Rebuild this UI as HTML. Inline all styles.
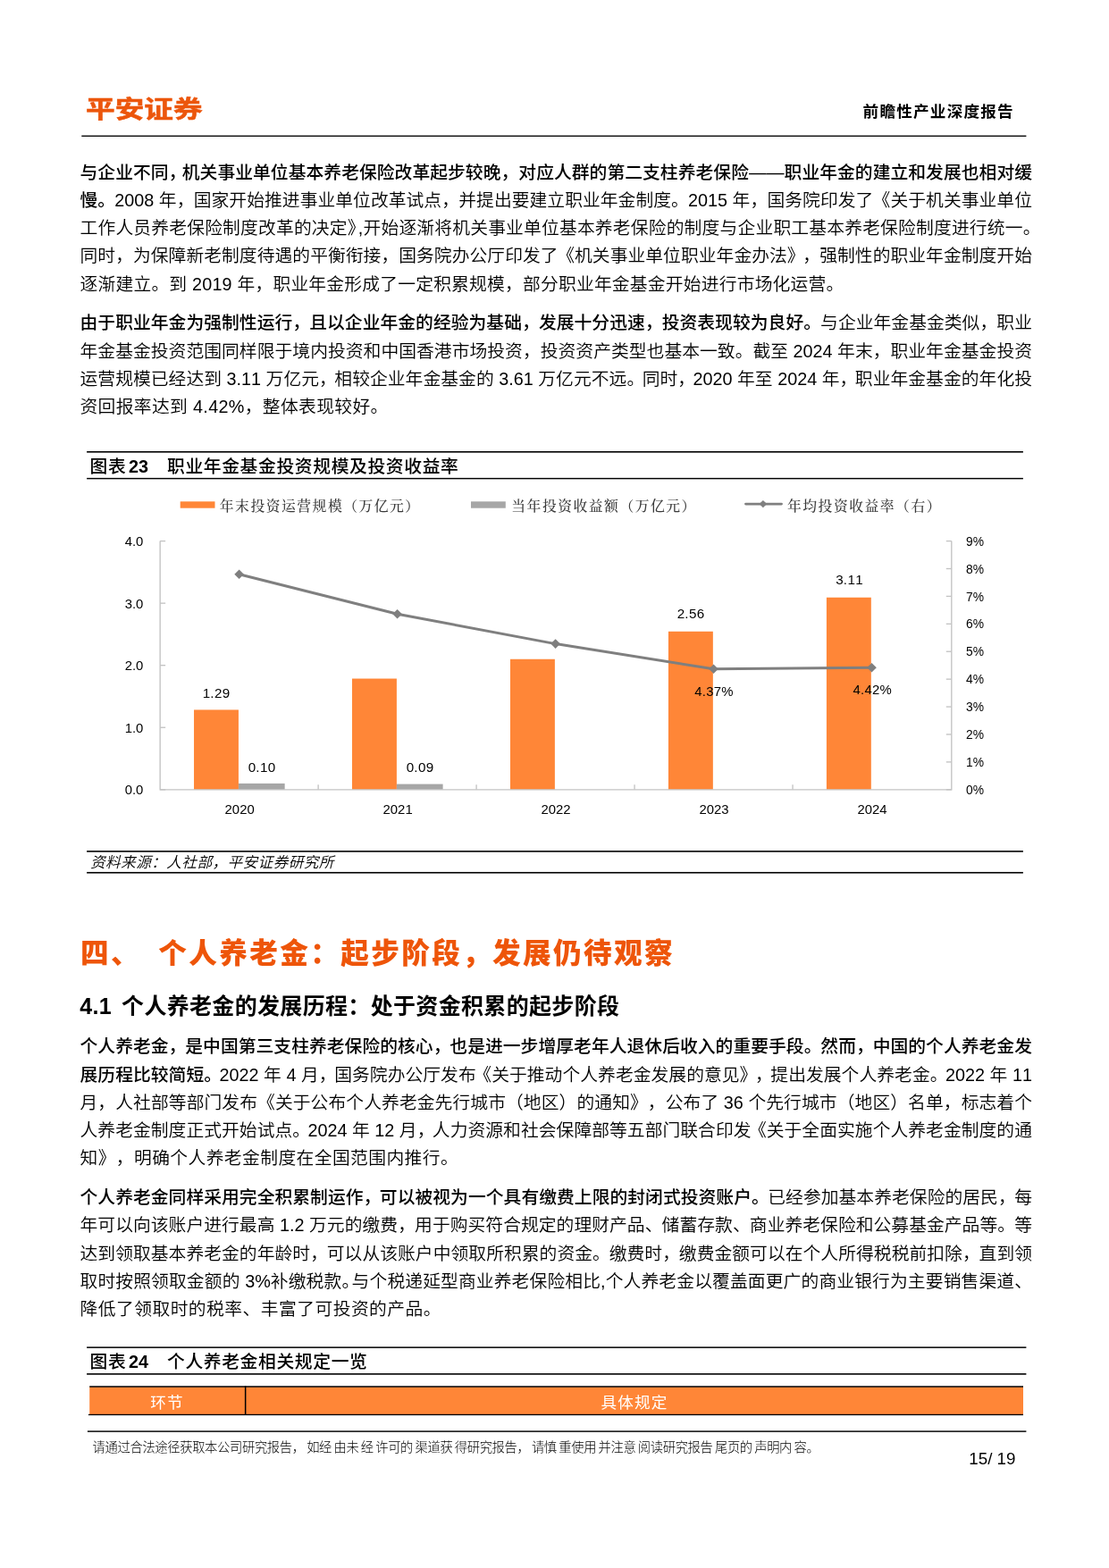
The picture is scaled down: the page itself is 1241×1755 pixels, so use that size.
<!DOCTYPE html>
<html lang="zh-CN">
<head>
<meta charset="utf-8">
<title>前瞻性产业深度报告</title>
<style>
html,body{margin:0;padding:0;background:#fff}
body{width:1241px;height:1755px;position:relative;overflow:hidden;color:#000;
  font-family:"Liberation Sans","Noto Sans CJK SC",sans-serif;-webkit-font-smoothing:antialiased;text-spacing-trim:space-all;font-kerning:none}
.abs{position:absolute;white-space:nowrap}
.ln{position:absolute;white-space:nowrap;font-size:19.79px;height:30px;line-height:30px;color:#000;font-weight:350}
.ln.j{text-align:justify;text-align-last:justify}
.ln b{font-weight:500}
.pr,.pl{display:inline-block}
#logo{left:96.3px;top:102.5px;font-size:27px;line-height:40px;font-weight:700;color:#EC560C;transform-origin:0 0;transform:scale(1.21,1);letter-spacing:0px;-webkit-text-stroke:0.55px #EC560C}
#hdr{left:965.6px;top:111.4px;font-size:17.6px;line-height:28px;font-weight:700;letter-spacing:1.22px}
.ftitle{font-size:19.79px;line-height:30px;font-weight:500;left:100.6px;letter-spacing:0.62px}
.ftitle .n{font-weight:700;letter-spacing:0;margin-left:2.6px}
.src{font-size:16.67px;line-height:24px;font-style:italic;left:101px;letter-spacing:0.4px;font-weight:350}
#h1{left:89.9px;top:1045.3px;font-size:31.6px;line-height:44px;font-weight:900;color:#EE5509;letter-spacing:2.4px}
#h2{left:89.3px;top:1109.94px;font-size:25px;line-height:32px;font-weight:700;letter-spacing:0.33px}
.th{color:#fff;font-size:17.6px;line-height:30px;font-weight:400;text-align:center;top:1555.3px;letter-spacing:1.2px}
#foot{left:103.6px;top:1609.3px;font-size:14.3px;line-height:22px;letter-spacing:-0.35px;color:#000;font-weight:300}
#foot .g{margin-right:2.45px}
#pg{left:1084.3px;top:1620.50px;font-size:18.75px;line-height:24px}
svg text{font-family:"Liberation Sans","Noto Sans CJK SC",sans-serif}
svg .lg{font-family:"Liberation Serif","Noto Serif CJK SC",serif;font-size:15.8px;fill:#3a3a3a;letter-spacing:1.5px;font-weight:500}
</style>
</head>
<body>
<div class="abs" id="logo">平安证券</div>
<div class="abs" id="hdr">前瞻性产业深度报告</div>

<div class="ln j" id="l0" style="top:177.59px;left:89.50px;width:1065.50px;"><b>与企业不同<span class="pr" style="margin-right:-4.70px">，</span>机关事业单位基本养老保险改革起步较晚，对应人群的第二支柱养老保险——职业年金的建立和发展也相对缓</b></div>
<div class="ln j" id="l1" style="top:208.84px;left:89.50px;width:1065.50px;"><b>慢<span class="pr" style="margin-right:-0.80px">。</span></b>2008 年<span class="pr" style="margin-right:-0.80px">，</span>国家开始推进事业单位改革试点<span class="pr" style="margin-right:-0.80px">，</span>并提出要建立职业年金制度<span class="pr" style="margin-right:-0.80px">。</span>2015 年<span class="pr" style="margin-right:-0.80px">，</span>国务院印发了<span class="pr" style="margin-left:-0.80px">《</span>关于机关事业单位</div>
<div class="ln j" id="l2" style="top:240.09px;left:89.50px;width:1065.50px;">工作人员养老保险制度改革的决定<span class="pr" style="margin-right:-7.72px">》</span>,开始逐渐将机关事业单位基本养老保险的制度与企业职工基本养老保险制度进行统一<span class="pr" style="margin-right:-9.50px">。</span></div>
<div class="ln j" id="l3" style="top:271.34px;left:89.50px;width:1065.50px;">同时，为保障新老制度待遇的平衡衔接，国务院办公厅印发了<span class="pr" style="margin-left:-1.41px">《</span>机关事业单位职业年金办法<span class="pr" style="margin-right:-2.35px">》</span><span class="pr" style="margin-right:-0.94px">，</span>强制性的职业年金制度开始</div>
<div class="ln" id="l4" style="top:302.59px;left:89.50px;letter-spacing:0.190px;">逐渐建立。到 2019 年，职业年金形成了一定积累规模，部分职业年金基金开始进行市场化运营。</div>
<div class="ln j" id="l5" style="top:346.34px;left:89.50px;width:1065.50px;"><b>由于职业年金为强制性运行<span class="pr" style="margin-right:-0.94px">，</span>且以企业年金的经验为基础<span class="pr" style="margin-right:-0.94px">，</span>发展十分迅速<span class="pr" style="margin-right:-0.94px">，</span>投资表现较为良好<span class="pr" style="margin-right:-0.94px">。</span></b>与企业年金基金类似<span class="pr" style="margin-right:-0.94px">，</span>职业</div>
<div class="ln j" id="l6" style="top:377.59px;left:89.50px;width:1065.50px;">年金基金投资范围同样限于境内投资和中国香港市场投资<span class="pr" style="margin-right:-0.12px">，</span>投资资产类型也基本一致<span class="pr" style="margin-right:-0.12px">。</span>截至 2024 年末<span class="pr" style="margin-right:-0.12px">，</span>职业年金基金投资</div>
<div class="ln j" id="l7" style="top:408.84px;left:89.50px;width:1065.50px;">运营规模已经达到 3.11 万亿元<span class="pr" style="margin-right:-2.59px">，</span>相较企业年金基金的 3.61 万亿元不远<span class="pr" style="margin-right:-2.59px">。</span>同时<span class="pr" style="margin-right:-2.59px">，</span>2020 年至 2024 年<span class="pr" style="margin-right:-2.59px">，</span>职业年金基金的年化投</div>
<div class="ln" id="l8" style="top:440.09px;left:89.50px;letter-spacing:0.330px;">资回报率达到 4.42%，整体表现较好。</div>
<div class="ln j" id="l9" style="top:1156.49px;left:89.50px;width:1065.50px;"><b>个人养老金<span class="pr" style="margin-right:-1.18px">，</span>是中国第三支柱养老保险的核心<span class="pr" style="margin-right:-1.18px">，</span>也是进一步增厚老年人退休后收入的重要手段<span class="pr" style="margin-right:-1.18px">。</span>然而<span class="pr" style="margin-right:-1.18px">，</span>中国的个人养老金发</b></div>
<div class="ln j" id="l10" style="top:1187.74px;left:89.50px;width:1065.50px;"><b>展历程比较简短<span class="pr" style="margin-right:-2.46px">。</span></b>2022 年 4 月<span class="pr" style="margin-right:-2.46px">，</span>国务院办公厅发布<span class="pr" style="margin-left:-2.46px">《</span>关于推动个人养老金发展的意见<span class="pr" style="margin-right:-2.46px">》</span><span class="pr" style="margin-right:-2.46px">，</span>提出发展个人养老金<span class="pr" style="margin-right:-2.46px">。</span>2022 年 11</div>
<div class="ln j" id="l11" style="top:1218.99px;left:89.50px;width:1065.50px;">月，人社部等部门发布《关于公布个人养老金先行城市（地区）的通知》，公布了 36 个先行城市（地区）名单，标志着个</div>
<div class="ln j" id="l12" style="top:1250.24px;left:89.50px;width:1065.50px;">人养老金制度正式开始试点<span class="pr" style="margin-right:-2.69px">。</span>2024 年 12 月<span class="pr" style="margin-right:-2.69px">，</span>人力资源和社会保障部等五部门联合印发<span class="pr" style="margin-left:-2.69px">《</span>关于全面实施个人养老金制度的通</div>
<div class="ln" id="l13" style="top:1281.49px;left:89.50px;letter-spacing:0.390px;">知》，明确个人养老金制度在全国范围内推行。</div>
<div class="ln j" id="l14" style="top:1325.24px;left:89.50px;width:1065.50px;"><b>个人养老金同样采用完全积累制运作<span class="pr" style="margin-right:-1.57px">，</span>可以被视为一个具有缴费上限的封闭式投资账户<span class="pr" style="margin-right:-1.57px">。</span></b>已经参加基本养老保险的居民<span class="pr" style="margin-right:-1.57px">，</span>每</div>
<div class="ln j" id="l15" style="top:1356.49px;left:89.50px;width:1065.50px;">年可以向该账户进行最高 1.2 万元的缴费<span class="pr" style="margin-right:-0.91px">，</span>用于购买符合规定的理财产品<span class="pr" style="margin-right:-0.91px">、</span>储蓄存款<span class="pr" style="margin-right:-0.91px">、</span>商业养老保险和公募基金产品等<span class="pr" style="margin-right:-0.91px">。</span>等</div>
<div class="ln j" id="l16" style="top:1387.74px;left:89.50px;width:1065.50px;">达到领取基本养老金的年龄时<span class="pr" style="margin-right:-1.18px">，</span>可以从该账户中领取所积累的资金<span class="pr" style="margin-right:-1.18px">。</span>缴费时<span class="pr" style="margin-right:-1.18px">，</span>缴费金额可以在个人所得税税前扣除<span class="pr" style="margin-right:-1.18px">，</span>直到领</div>
<div class="ln j" id="l17" style="top:1418.99px;left:89.50px;width:1065.50px;">取时按照领取金额的 3%补缴税款<span class="pr" style="margin-right:-8.72px">。</span>与个税递延型商业养老保险相比,个人养老金以覆盖面更广的商业银行为主要销售渠道、</div>
<div class="ln" id="l18" style="top:1450.24px;left:89.50px;letter-spacing:0.445px;">降低了领取时的税率、丰富了可投资的产品。</div>

<!-- figure 23 -->
<div class="abs ftitle" style="top:506.99px"><span>图表</span><span class="n">23</span><span style="display:inline-block;width:21px"></span><span>职业年金基金投资规模及投资收益率</span></div>

<svg class="abs" style="left:0;top:0" width="1241" height="1755" viewBox="0 0 1241 1755">
<rect x="91.30" y="151.57" width="1057.10" height="1.35" fill="#000"/>
<rect x="97.10" y="505.00" width="1047.80" height="1.60" fill="#000"/>
<rect x="97.10" y="534.88" width="1047.80" height="1.45" fill="#000"/>
<rect x="97.10" y="952.10" width="1047.80" height="1.60" fill="#000"/>
<rect x="97.10" y="975.95" width="1047.80" height="1.60" fill="#000"/>
<rect x="97.10" y="1507.40" width="1051.30" height="1.50" fill="#000"/>
<rect x="97.10" y="1537.10" width="1051.30" height="1.60" fill="#000"/>
<rect x="97.90" y="1601.38" width="1050.50" height="1.45" fill="#000"/>
<rect x="100.2" y="1552.2" width="1044.8" height="31" fill="#FF8637"/>
<rect x="100.20" y="1551.25" width="1044.80" height="1.50" fill="#000"/>
<rect x="98.90" y="1582.80" width="1046.10" height="1.30" fill="#000"/>
<rect x="273.9" y="1551.3" width="1.5" height="32.6" fill="#000"/>
<rect x="201.7" y="561.3" width="38.8" height="7.4" fill="#FF8637"/>
<text class="lg" x="245.8" y="571.9">年末投资运营规模（万亿元）</text>
<rect x="527" y="561.3" width="38.8" height="7.4" fill="#A6A6A6"/>
<text class="lg" x="572.3" y="571.9">当年投资收益额（万亿元）</text>
<line x1="834.5" y1="564.1" x2="874.5" y2="564.1" stroke="#7F7F7F" stroke-width="2.9" stroke-linecap="round"/>
<path d="M849.6 564.1 L853.9 559.9 L858.2 564.1 L853.9 568.3 Z" fill="#7F7F7F"/>
<text class="lg" x="881" y="571.9">年均投资收益率（右）</text>
<rect x="217.03" y="794.46" width="49.90" height="89.34" fill="#FF8637"/>
<rect x="266.94" y="876.88" width="51.70" height="6.92" fill="#A6A6A6"/>
<rect x="394.00" y="759.54" width="49.90" height="124.26" fill="#FF8637"/>
<rect x="443.91" y="877.58" width="51.70" height="6.22" fill="#A6A6A6"/>
<rect x="570.98" y="737.76" width="49.90" height="146.04" fill="#FF8637"/>
<rect x="747.94" y="706.78" width="49.90" height="177.02" fill="#FF8637"/>
<rect x="924.91" y="668.74" width="49.90" height="215.06" fill="#FF8637"/>
<g stroke="#C3C3C3" stroke-width="1.35" fill="none">
<path d="M179.15 605.60 V883.80 H1064.80 V605.60"/>
<path d="M179.15 605.60 h6"/>
<path d="M179.15 675.15 h6"/>
<path d="M179.15 744.70 h6"/>
<path d="M179.15 814.25 h6"/>
<path d="M179.15 883.80 h6"/>
<path d="M1064.80 605.60 h-6"/>
<path d="M1064.80 636.51 h-6"/>
<path d="M1064.80 667.42 h-6"/>
<path d="M1064.80 698.33 h-6"/>
<path d="M1064.80 729.24 h-6"/>
<path d="M1064.80 760.16 h-6"/>
<path d="M1064.80 791.07 h-6"/>
<path d="M1064.80 821.98 h-6"/>
<path d="M1064.80 852.89 h-6"/>
<path d="M1064.80 883.80 h-6"/>
<path d="M356.12 883.80 v-5.5"/>
<path d="M533.09 883.80 v-5.5"/>
<path d="M710.06 883.80 v-5.5"/>
<path d="M887.03 883.80 v-5.5"/>
</g>
<polyline points="267.6,642.7 444.6,687.2 621.6,720.6 798.5,748.7 975.5,747.2" fill="none" stroke="#7F7F7F" stroke-width="3" stroke-linejoin="round"/>
<path d="M262.3 642.7 l5.3 -5.3 l5.3 5.3 l-5.3 5.3 Z" fill="#7F7F7F"/>
<path d="M439.3 687.2 l5.3 -5.3 l5.3 5.3 l-5.3 5.3 Z" fill="#7F7F7F"/>
<path d="M616.3 720.6 l5.3 -5.3 l5.3 5.3 l-5.3 5.3 Z" fill="#7F7F7F"/>
<path d="M793.2 748.7 l5.3 -5.3 l5.3 5.3 l-5.3 5.3 Z" fill="#7F7F7F"/>
<path d="M970.2 747.2 l5.3 -5.3 l5.3 5.3 l-5.3 5.3 Z" fill="#7F7F7F"/>
<g font-size="15.2px" fill="#000">
<text transform="translate(160.40,611.04) scale(0.980,1)" text-anchor="end">4.0</text>
<text transform="translate(160.40,680.59) scale(0.980,1)" text-anchor="end">3.0</text>
<text transform="translate(160.40,750.14) scale(0.980,1)" text-anchor="end">2.0</text>
<text transform="translate(160.40,819.69) scale(0.980,1)" text-anchor="end">1.0</text>
<text transform="translate(160.40,889.24) scale(0.980,1)" text-anchor="end">0.0</text>
<text transform="translate(1081.00,610.74) scale(0.910,1)" text-anchor="start">9%</text>
<text transform="translate(1081.00,641.65) scale(0.910,1)" text-anchor="start">8%</text>
<text transform="translate(1081.00,672.56) scale(0.910,1)" text-anchor="start">7%</text>
<text transform="translate(1081.00,703.47) scale(0.910,1)" text-anchor="start">6%</text>
<text transform="translate(1081.00,734.39) scale(0.910,1)" text-anchor="start">5%</text>
<text transform="translate(1081.00,765.30) scale(0.910,1)" text-anchor="start">4%</text>
<text transform="translate(1081.00,796.21) scale(0.910,1)" text-anchor="start">3%</text>
<text transform="translate(1081.00,827.12) scale(0.910,1)" text-anchor="start">2%</text>
<text transform="translate(1081.00,858.03) scale(0.910,1)" text-anchor="start">1%</text>
<text transform="translate(1081.00,888.94) scale(0.910,1)" text-anchor="start">0%</text>
<text transform="translate(268.13,911.14) scale(0.980,1)" text-anchor="middle">2020</text>
<text transform="translate(445.11,911.14) scale(0.980,1)" text-anchor="middle">2021</text>
<text transform="translate(622.08,911.14) scale(0.980,1)" text-anchor="middle">2022</text>
<text transform="translate(799.04,911.14) scale(0.980,1)" text-anchor="middle">2023</text>
<text transform="translate(976.01,911.14) scale(0.980,1)" text-anchor="middle">2024</text>
<text transform="translate(242.00,780.94) scale(1.000,1)" text-anchor="middle" letter-spacing="0.30">1.29</text>
<text transform="translate(293.00,863.94) scale(1.000,1)" text-anchor="middle" letter-spacing="0.30">0.10</text>
<text transform="translate(470.00,863.94) scale(1.000,1)" text-anchor="middle" letter-spacing="0.30">0.09</text>
<text transform="translate(773.00,692.44) scale(1.000,1)" text-anchor="middle" letter-spacing="0.30">2.56</text>
<text transform="translate(950.50,654.44) scale(1.000,1)" text-anchor="middle" letter-spacing="0.30">3.11</text>
<text transform="translate(799.00,779.44) scale(0.980,1)" text-anchor="middle" letter-spacing="0.30">4.37%</text>
<text transform="translate(976.30,777.44) scale(0.980,1)" text-anchor="middle" letter-spacing="0.30">4.42%</text>
</g>
</svg>

<div class="abs src" style="top:954.2px">资料来源：人社部，平安证券研究所</div>

<div class="abs" id="h1"><span>四、</span><span style="display:inline-block;width:19.3px"></span><span>个人养老金：起步阶段，发展仍待观察</span></div>
<div class="abs" id="h2"><span>4.1</span><span style="display:inline-block;width:11px"></span><span>个人养老金的发展历程：处于资金积累的起步阶段</span></div>

<!-- figure 24 -->
<div class="abs ftitle" style="top:1508.99px"><span>图表</span><span class="n">24</span><span style="display:inline-block;width:21px"></span><span>个人养老金相关规定一览</span></div>

<div class="abs th" style="left:99px;width:176px">环节</div>
<div class="abs th" style="left:275px;width:870px">具体规定</div>

<div class="abs" id="foot"><span class="g">请通过合法途径获取本公司研究报告，</span><span class="g">如经</span><span class="g">由未</span><span class="g">经</span><span class="g">许可的</span><span class="g">渠道获</span><span class="g">得研究报告，</span><span class="g">请慎</span><span class="g">重使用</span><span class="g">并注意</span><span class="g">阅读研究报告</span><span class="g">尾页的</span><span class="g">声明内</span><span class="g">容。</span></div>
<div class="abs" id="pg">15/ 19</div>
</body>
</html>
